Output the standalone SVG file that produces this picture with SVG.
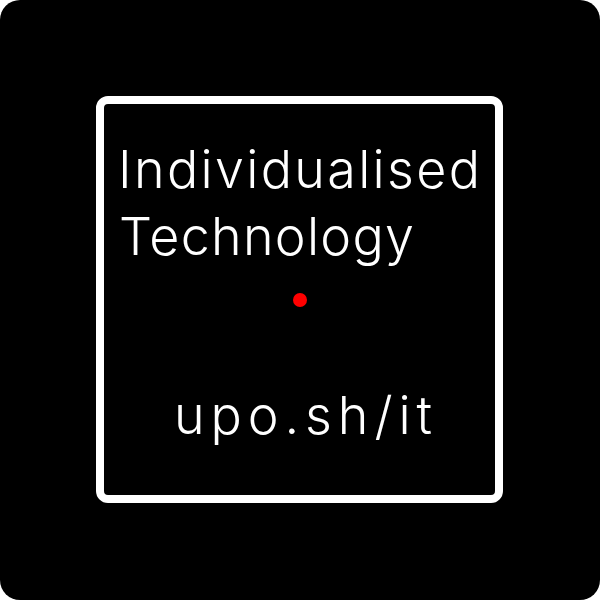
<svg xmlns="http://www.w3.org/2000/svg" width="600" height="600" viewBox="0 0 600 600">
<style>
.t{font-family:Inter,"Open Sans","DejaVu Sans",sans-serif;font-weight:300;fill:#fff;font-size:52px}
</style>
<rect x="0" y="0" width="600" height="600" fill="#fff"/>
<g id="background"><rect x="0" y="0" width="600" height="600" rx="20" ry="20" fill="#000"/></g>
<g id="frame"><rect x="100" y="100" width="399" height="399" rx="8" ry="8" fill="none" stroke="#fff" stroke-width="8"/></g>
<g id="title">
<text class="t" x="118" y="188" textLength="362" lengthAdjust="spacing">Individualised</text>
<text class="t" x="119" y="255" textLength="295" lengthAdjust="spacing">Technology</text>
</g>
<g id="dot"><circle cx="300" cy="300" r="7" fill="#ff0000"/></g>
<g id="url"><text class="t" x="174" y="434" textLength="258" lengthAdjust="spacing">upo.sh/it</text></g>
</svg>
